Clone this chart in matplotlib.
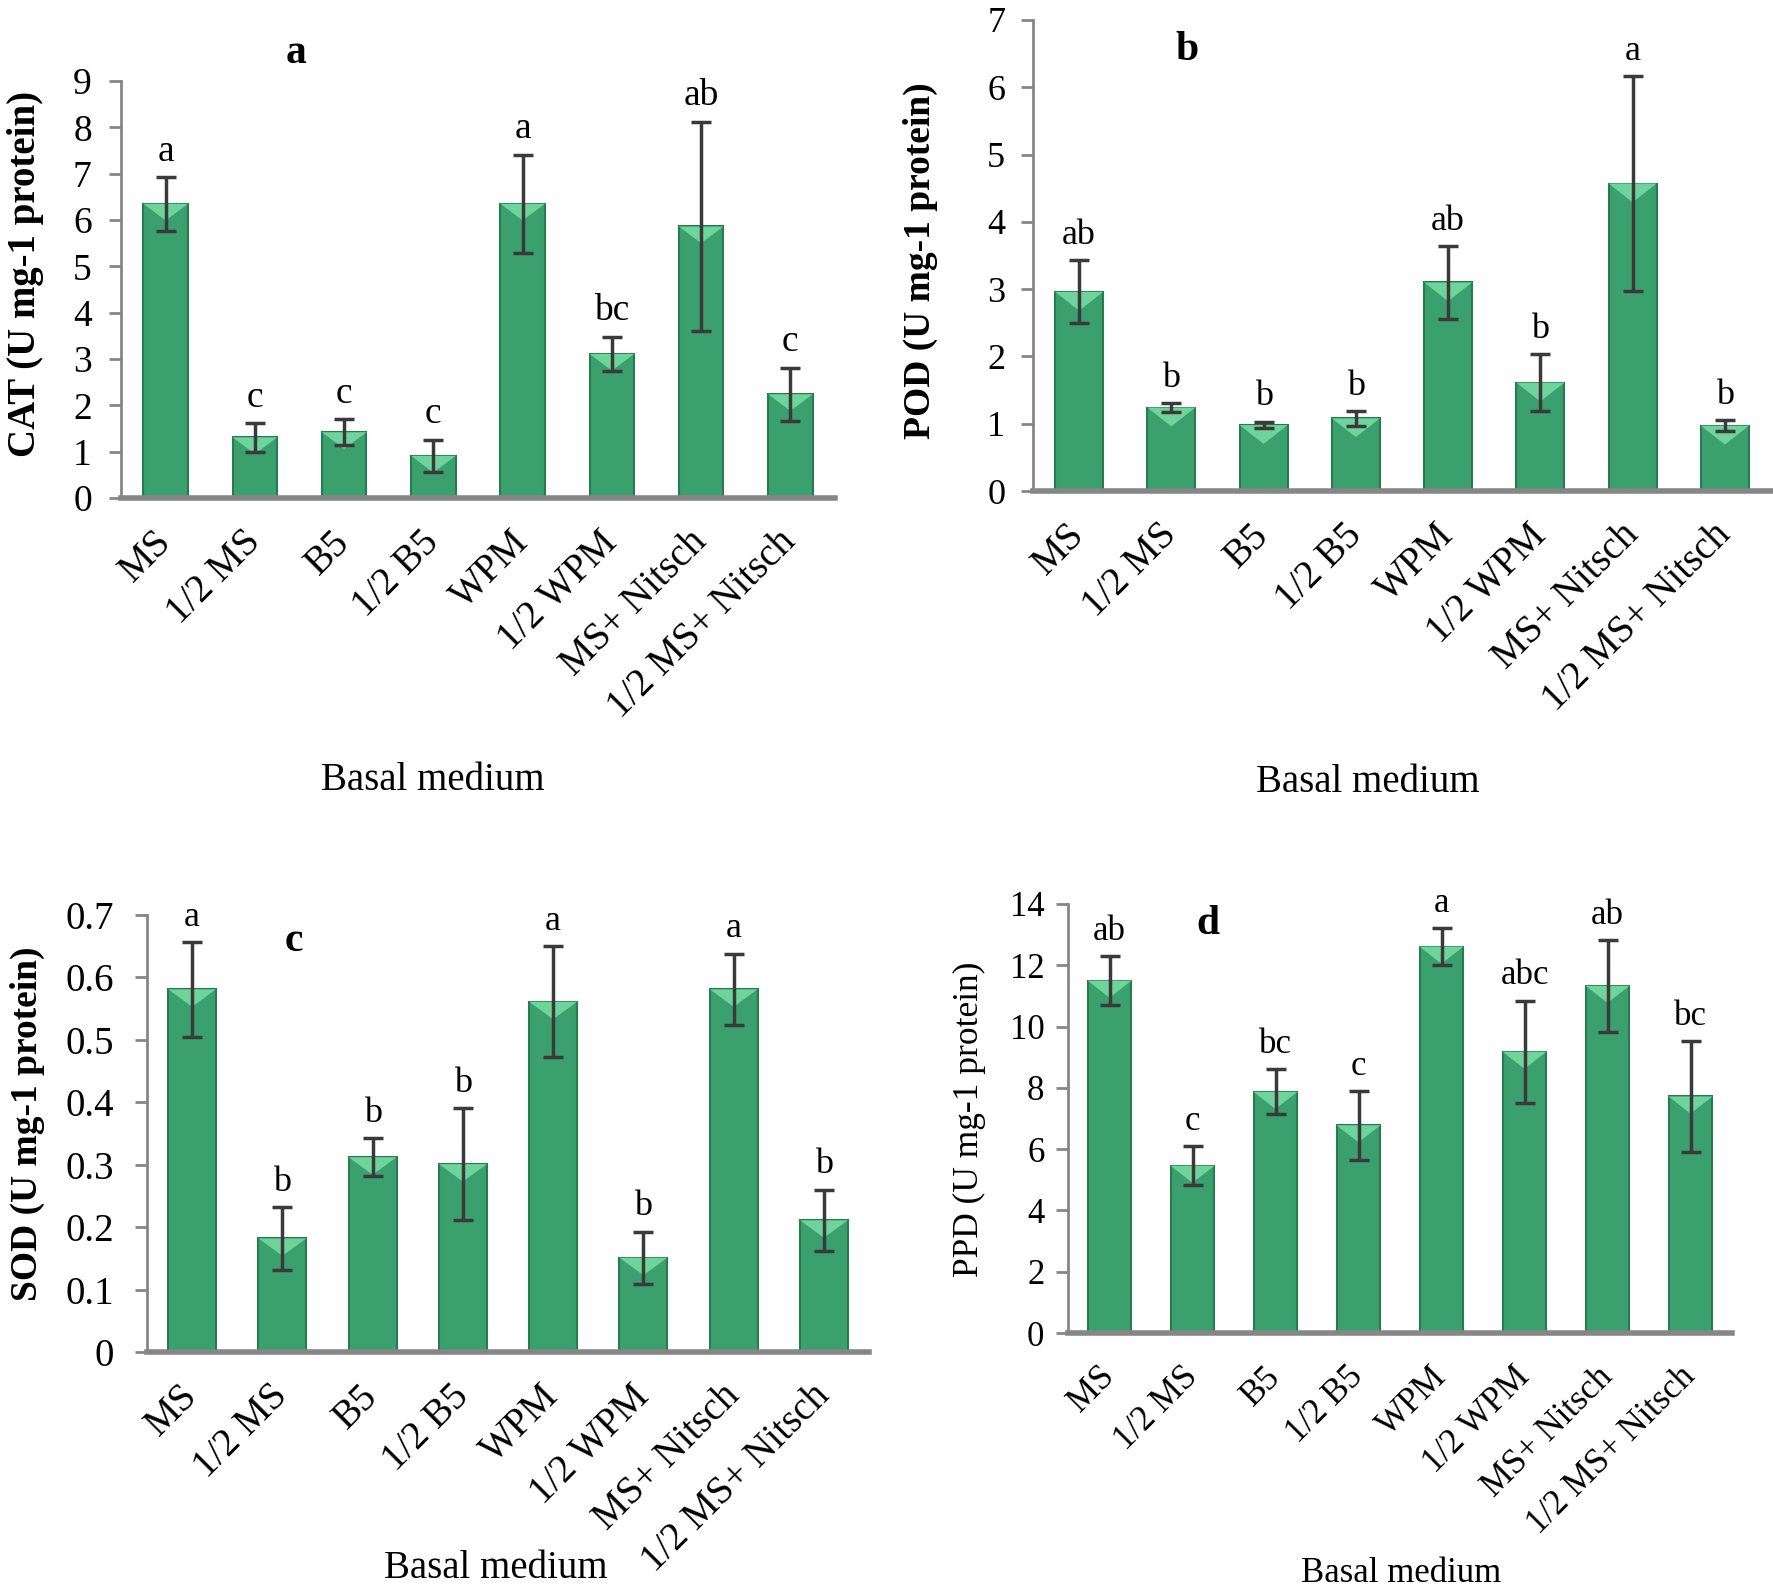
import matplotlib
matplotlib.use("Agg")
import matplotlib.pyplot as plt
from matplotlib.patches import Polygon

plt.rcParams['font.family'] = ['Liberation Serif', 'DejaVu Serif']

media = ['MS', '1/2 MS', 'B5', '1/2 B5', 'WPM', '1/2 WPM', 'MS+ Nitsch', '1/2 MS+ Nitsch']

# CAT activity (panel a)
cat_mean = [6.35, 1.31, 1.42, 0.91, 6.35, 3.11, 5.86, 2.24]
cat_err = [0.58, 0.31, 0.28, 0.35, 1.06, 0.37, 2.26, 0.57]
cat_letters = ['a', 'c', 'c', 'c', 'a', 'bc', 'ab', 'c']

# POD activity (panel b)
pod_mean = [2.96, 1.24, 0.98, 1.08, 3.10, 1.61, 4.57, 0.97]
pod_err = [0.47, 0.07, 0.05, 0.11, 0.54, 0.42, 1.60, 0.08]
pod_letters = ['ab', 'b', 'b', 'b', 'ab', 'b', 'a', 'b']

# SOD activity (panel c)
sod_mean = [0.581, 0.182, 0.312, 0.301, 0.561, 0.151, 0.581, 0.211]
sod_err = [0.076, 0.050, 0.030, 0.090, 0.089, 0.042, 0.057, 0.049]
sod_letters = ['a', 'b', 'b', 'b', 'a', 'b', 'a', 'b']

# PPD activity (panel d)
ppd_mean = [11.5, 5.46, 7.87, 6.78, 12.61, 9.18, 11.33, 7.72]
ppd_err = [0.80, 0.63, 0.73, 1.12, 0.60, 1.67, 1.50, 1.80]
ppd_letters = ['ab', 'c', 'bc', 'c', 'a', 'abc', 'ab', 'bc']

BAR = '#3aa06d'
EDGE = '#2a7a50'
LIGHT = '#6fd39c'
GREY = '#868686'


def draw_panel(ax, means, errs, letters, ymax, ystep, ylabel, ylabel_bold, ylabel_xy,
               bar_w, tick_fs, tick_pad, xtick_fs, label_fs, letter_fs, ytickfmt):
    x = list(range(len(media)))
    bars = ax.bar(x, means, width=bar_w, color=BAR, edgecolor=EDGE, linewidth=1.5, zorder=2)
    # light bevel on top of each bar
    depth = ymax * 0.04
    for b in bars:
        x0 = b.get_x()
        w = b.get_width()
        h = b.get_height()
        tri = Polygon([[x0, h], [x0 + w, h], [x0 + w / 2, h - depth]], closed=True,
                      facecolor=LIGHT, edgecolor='none', zorder=3)
        ax.add_patch(tri)
    ax.errorbar(x, means, yerr=errs, fmt='none', ecolor='#3a3a3a', elinewidth=2.5,
                capsize=7, capthick=2.5, zorder=4)
    for xi, m, e, t in zip(x, means, errs, letters):
        ax.annotate(t, (xi, m + e), xytext=(0, 6), textcoords='offset points',
                    ha='center', va='bottom', fontsize=letter_fs)

    ax.set_xlim(-0.5, len(media) - 0.5)
    ax.set_ylim(0, ymax)
    n = int(round(ymax / ystep))
    ticks = [i * ystep for i in range(n + 1)]
    ax.set_yticks(ticks)
    ax.set_yticklabels([ytickfmt(t) for t in ticks], fontsize=tick_fs)
    ax.set_xticks(x)
    ax.set_xticklabels(media, rotation=45, ha='right', va='center',
                       rotation_mode='anchor', fontsize=xtick_fs)
    ax.tick_params(axis='x', length=0, pad=28)
    ax.tick_params(axis='y', direction='out', length=9, width=2, color=GREY, pad=tick_pad)
    for s in ['top', 'right']:
        ax.spines[s].set_visible(False)
    ax.spines['left'].set_color(GREY)
    ax.spines['left'].set_linewidth(2)
    ax.spines['bottom'].set_color(GREY)
    ax.spines['bottom'].set_linewidth(4)
    ax.spines['bottom'].set_zorder(5)
    ax.set_ylabel(ylabel, fontsize=label_fs, fontweight='bold' if ylabel_bold else 'normal',
                  va='center')
    ax.yaxis.set_label_coords(*ylabel_xy)


fig = plt.figure(figsize=(17.73, 15.95), dpi=100)
W, H = 1773.0, 1595.0


def axes_px(left, top, right, bottom):
    return fig.add_axes([left / W, 1 - bottom / H, (right - left) / W, (bottom - top) / H])


ax_a = axes_px(121, 81, 835, 498)
ax_b = axes_px(1033, 20, 1771, 491)
ax_c = axes_px(147, 915, 869, 1352)
ax_d = axes_px(1068, 904, 1732, 1333)

intfmt = lambda t: '%d' % round(t)
decfmt = lambda t: '0' if t == 0 else '%.1f' % t

draw_panel(ax_a, cat_mean, cat_err, cat_letters, 9, 1, 'CAT (U mg-1 protein)', True,
           (-0.134, 0.537), 0.5, 27, 12, 28, 28, 27, intfmt)
draw_panel(ax_b, pod_mean, pod_err, pod_letters, 7, 1, 'POD (U mg-1 protein)', True,
           (-0.152, 0.49), 0.52, 26, 11, 28, 27, 26, intfmt)
draw_panel(ax_c, sod_mean, sod_err, sod_letters, 0.7, 0.1, 'SOD (U mg-1 protein)', True,
           (-0.165, 0.522), 0.53, 28, 15, 28, 27, 26, decfmt)
draw_panel(ax_d, ppd_mean, ppd_err, ppd_letters, 14, 2, 'PPD (U mg-1 protein)', False,
           (-0.149, 0.499), 0.53, 25, 8, 25, 25.5, 25, intfmt)

# panel tags
for tag, (px, py) in zip('abcd', [(296, 53), (1187, 50), (294, 941), (1208, 924)]):
    fig.text(px / W, 1 - py / H, tag, fontsize=30, fontweight='bold', ha='center', va='center')

fig.text(433 / W, 1 - 781 / H, 'Basal medium', fontsize=28, ha='center', va='center')
fig.text(1368 / W, 1 - 782 / H, 'Basal medium', fontsize=28, ha='center', va='center')
fig.text(496 / W, 1 - 1569 / H, 'Basal medium', fontsize=28, ha='center', va='center')
fig.text(1401 / W, 1 - 1573 / H, 'Basal medium', fontsize=25, ha='center', va='center')

fig.savefig('out.png', dpi=100, facecolor='white')
